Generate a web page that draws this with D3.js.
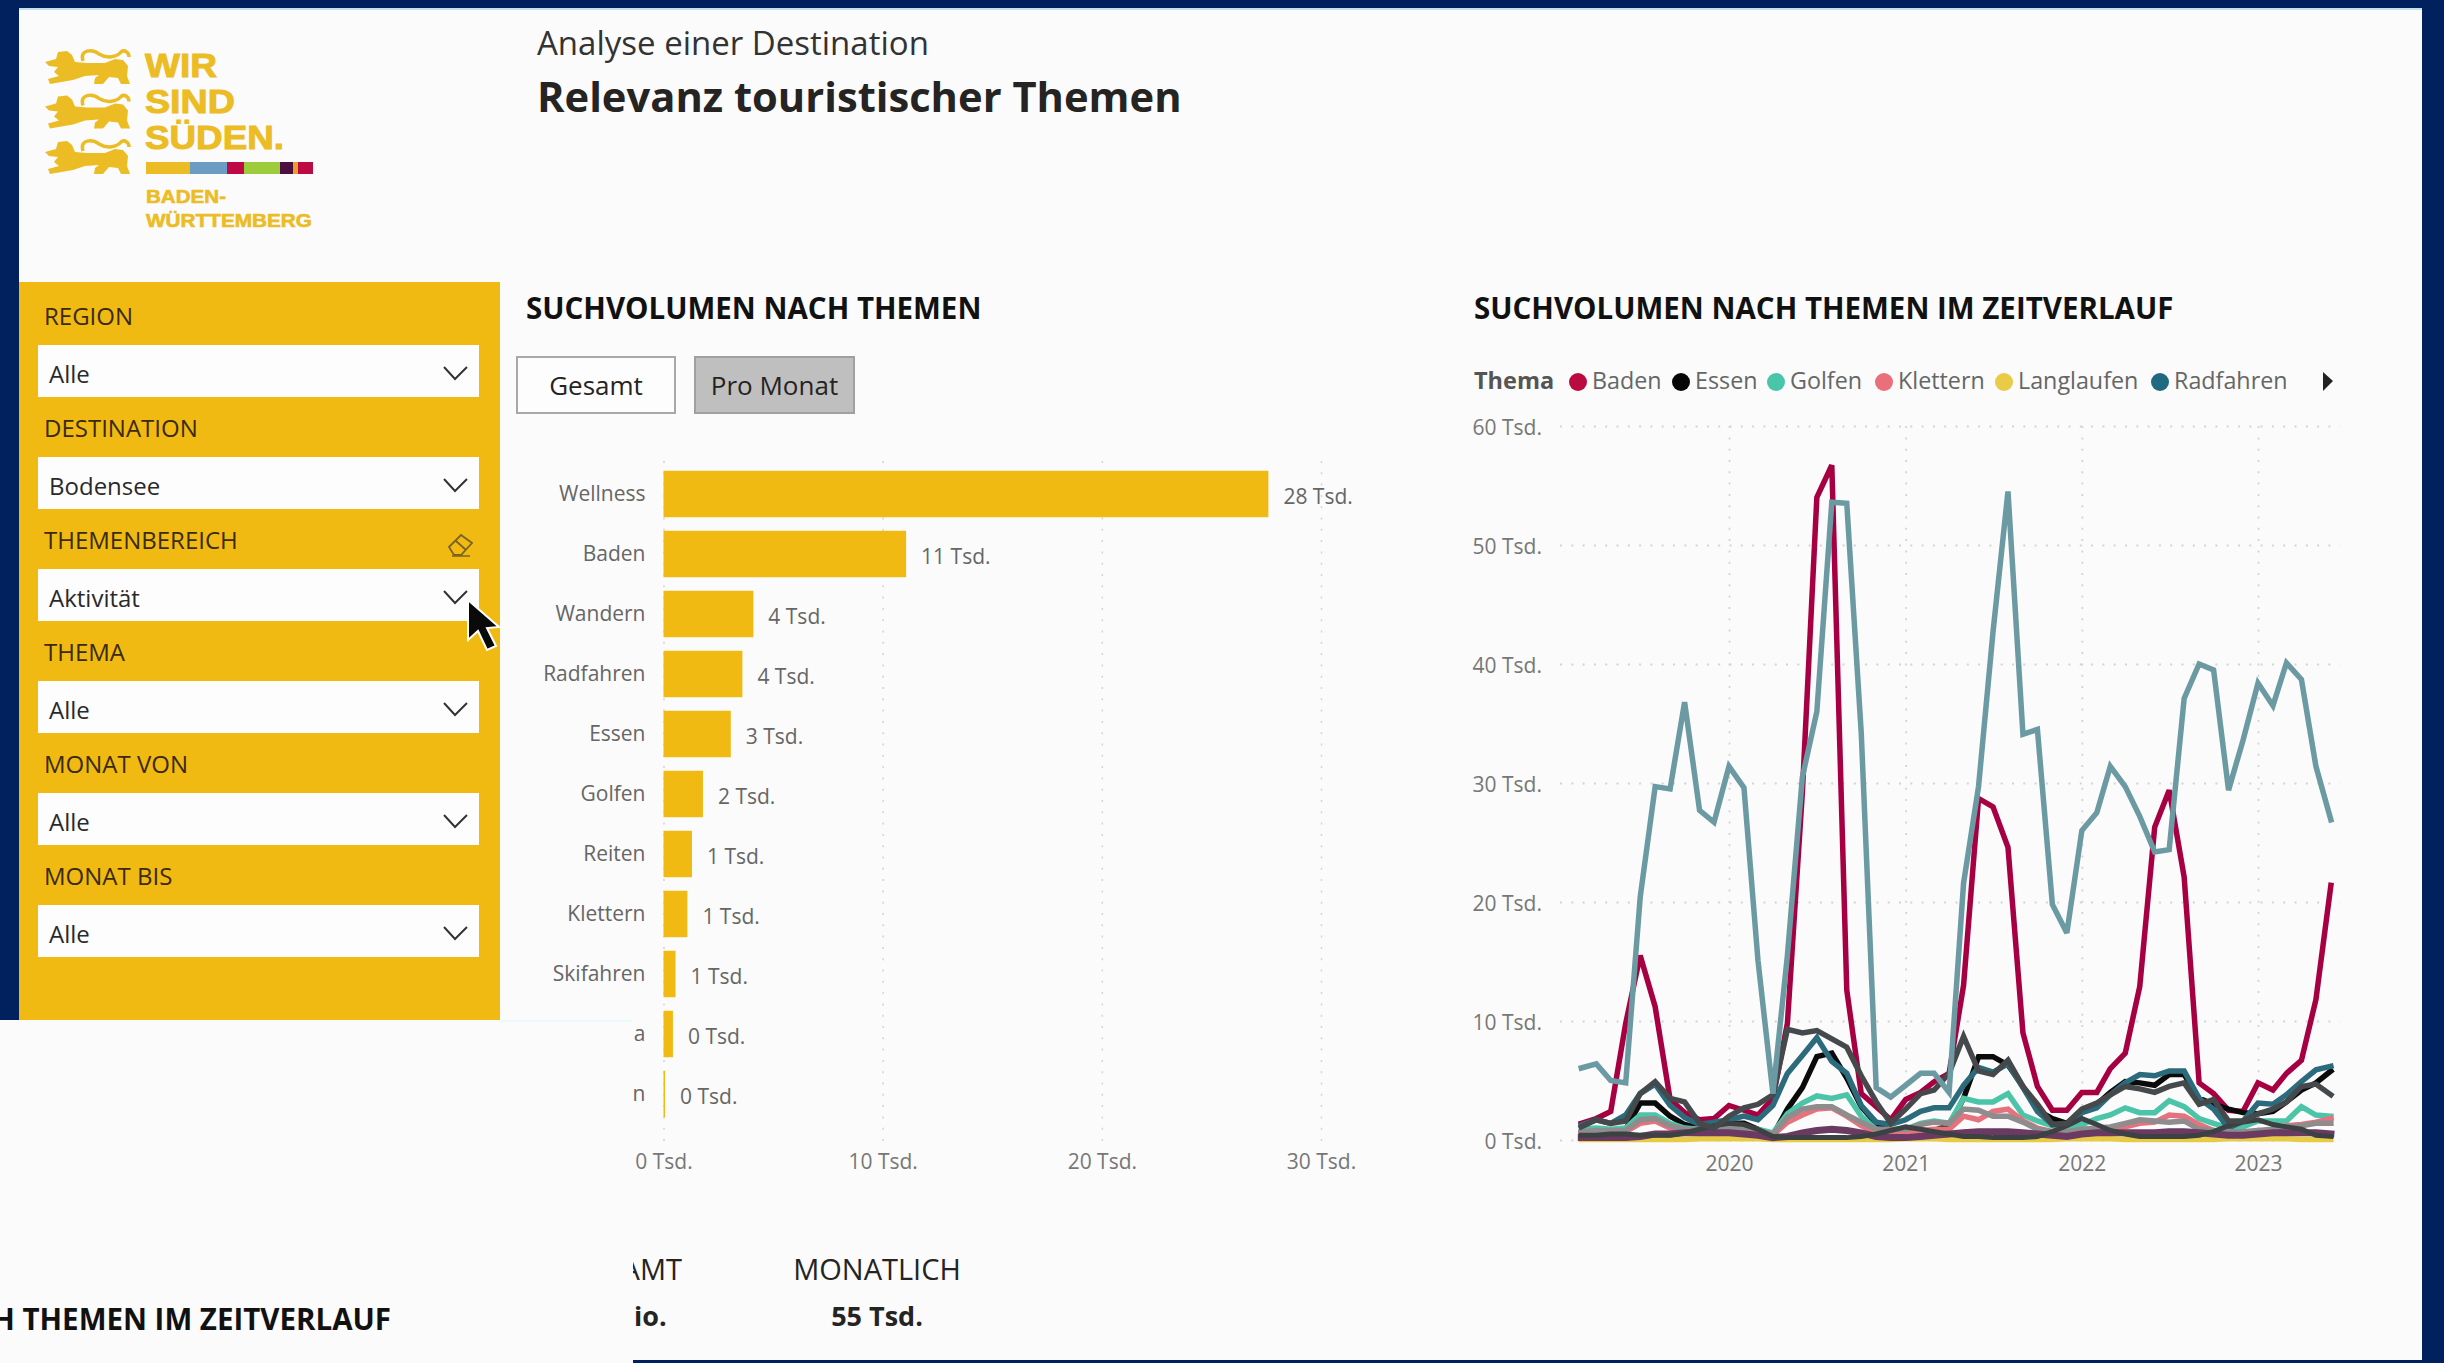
<!DOCTYPE html>
<html lang="de"><head><meta charset="utf-8">
<script src="https://cdnjs.cloudflare.com/ajax/libs/d3/7.8.5/d3.min.js"></script>
<style>
html,body{margin:0;padding:0;background:#fbfbfb;overflow:hidden}
svg{display:block}
text{font-family:"Open Sans","Noto Sans",sans-serif}
</style></head><body>
<svg id="c" width="2444" height="1363"></svg>
<script>
// ---- data ----
const barCategories = ["Wellness","Baden","Wandern","Radfahren","Essen","Golfen","Reiten","Klettern","Skifahren","a","n"];
const barValues = [27.6,11.07,4.1,3.6,3.07,1.8,1.3,1.09,0.55,0.43,0.07];
const barTicks = [0,10,20,30];
const lineTicks = [0,10,20,30,40,50,60];
const yearTicks = ["2020","2021","2022","2023"];
const slicerLabels = ["REGION","DESTINATION","THEMENBEREICH","THEMA","MONAT VON","MONAT BIS"];
const slicerValues = ["Alle","Bodensee","Aktivität","Alle","Alle","Alle"];
const legendNames = ["Baden","Essen","Golfen","Klettern","Langlaufen","Radfahren"];
const legendColors = ["#bb0a40","#060606","#49c6a9","#e9707b","#e9cb45","#1f6a80"];

const baden = [1.4,1.8,2.4,9.8,15.5,11.2,3.4,2.3,1.7,1.8,2.9,2.5,2.1,3.5,9.8,29.2,54,56.7,12.6,3.9,2.8,1.7,3.4,4.0,4.9,5.6,13,28.7,28,24.6,9,4.5,2.5,2.5,4,4,6,7.3,12.9,26.3,29.4,22.1,4.8,3.9,2.5,2.4,4.8,4.2,5.6,6.7,11.8,21.4];
const essen = [0.6,0.7,0.7,0.9,3.1,3.1,2,1.3,1,1.1,1.4,1.4,0.9,0.4,2.6,4.4,7,7.3,5.2,2.8,1.4,0.9,0.6,0.7,0.8,1.2,3.5,7,7,6.3,4.5,2.5,1.8,1.4,2.3,3,4,4.9,4.8,4.6,5.5,5.5,3.5,3,2.6,2.3,2.2,2.4,3.2,4.2,4.8,5.8];
const golfen = [0.9,1,0.9,1,2.1,2.1,1.4,1,0.9,1.1,1,1,0.9,0.6,2.2,3.1,3.7,3.5,3.8,2,0.9,0.8,0.9,1.4,1.6,1.4,3.5,3.2,3.2,3.9,2.1,1.6,1.2,1,1.3,1.8,2.1,2.7,2.3,2.3,3.3,2.8,1.8,1.4,1,1.1,1.6,1.6,1.6,2.8,2.1,2];
const klettern = [0.6,0.7,0.7,0.7,1.4,1.6,1,0.8,0.7,0.8,0.8,0.8,0.7,0.4,1.5,2.1,2.6,2.7,2,1.2,0.6,0.6,0.6,0.8,0.9,0.9,2,1.7,2.4,2.6,1.6,1,0.7,0.6,0.7,0.8,0.9,1.1,1.4,1.5,2.1,2,1.3,0.8,0.6,0.6,0.7,0.9,1.2,1.3,1.5,1.8];
const langlaufen = [0.05,0.05,0.05,0.05,0.05,0.05,0.05,0.05,0.1,0.1,0.1,0.1,0.1,0.05,0.05,0.05,0.05,0.05,0.05,0.05,0.05,0.05,0.1,0.1,0.1,0.05,0.05,0.05,0.05,0.05,0.05,0.05,0.05,0.1,0.1,0.1,0.1,0.05,0.05,0.05,0.05,0.05,0.05,0.05,0.1,0.1,0.1,0.1,0.1,0.05,0.05,0.05];
const radfahren = [1.26,1.7,1.4,2.1,3.9,4.7,2.9,1.9,1.3,1.5,1.7,2,1.7,2.9,5.6,7.1,8.6,6.6,5.6,2.9,1.5,1.3,1.7,2.4,2.7,2.7,4.6,6.1,5.7,6.4,4.4,2.4,1.3,1.3,2.3,2.7,3.8,4.8,5.5,5.4,5.8,5.8,3.5,2.6,1,1.6,3.1,3,3.8,4.9,5.9,6.2];
const reiten = [0.7,0.8,0.8,0.8,1.7,1.8,1.2,0.9,0.9,1,1,0.9,0.8,0.5,1.9,2.6,2.8,2.8,2.1,1.5,0.9,0.9,0.9,1.3,1.5,1.4,2.6,2.5,2,2,1.5,0.9,0.7,0.7,0.9,1,1.1,1.4,1.7,1.6,1.5,1.6,0.9,0.8,0.7,0.7,0.8,0.9,1.1,1.2,1.4,1.4];
const hiddenA = [0.2,0.2,0.2,0.2,0.3,0.5,0.5,0.6,0.6,0.6,0.6,0.5,0.4,0.2,0.3,0.6,0.8,0.9,0.8,0.6,0.3,0.2,0.2,0.3,0.4,0.5,0.6,0.7,0.7,0.7,0.6,0.5,0.4,0.3,0.5,0.6,0.6,0.6,0.6,0.6,0.7,0.7,0.6,0.5,0.4,0.4,0.5,0.6,0.6,0.6,0.6,0.5];
const skifahren = [0.4,0.4,0.5,0.5,0.4,0.4,0.4,0.6,0.9,1.2,1.4,1.3,0.9,0.3,0.2,0.2,0.2,0.2,0.2,0.3,0.5,0.8,1.1,0.9,0.7,0.5,0.3,0.3,0.2,0.2,0.2,0.3,0.7,1.2,1.8,1.3,0.8,0.5,0.3,0.3,0.3,0.3,0.4,0.7,1.2,1.5,1.7,1.3,1.1,0.9,0.4,0.3];
const wandern = [1.1,1.7,1.4,1.6,3.9,4.9,3.5,3.2,1.4,1,2,2.7,3,3.8,9.3,9,9.2,8.5,7.8,5.4,3.2,1.4,2.6,3.9,4.2,5.6,8.7,5.8,5.5,6.7,4.5,3,1.3,1.4,2.6,3.1,3.8,4.5,4.3,4,4.5,4.8,3,3.4,1.6,1.6,2.2,2.6,3.2,4.5,4.7,3.8];
const wellness = [6.05,6.4,5,4.8,20.4,29.7,29.5,36.8,27.7,26.7,31.4,29.6,15.1,3.9,15.5,30.5,36,53.6,53.5,34.2,4.4,3.6,4.6,5.6,5.6,4,21.6,29.7,42.7,54.5,34.1,34.5,19.8,17.4,26,27.5,31.4,29.7,27.2,24.2,24.4,37.1,40,39.5,29.4,33.6,38.4,36.5,40.1,38.7,31.4,26.9];

const lineSeries = [
  {v:baden,c:"#a60042",w:5.5},{v:essen,c:"#0b0b0b",w:5.5},{v:golfen,c:"#4cc4a8",w:5.5},
  {v:klettern,c:"#e5727c",w:5.5},{v:langlaufen,c:"#e8cb45",w:5.5},{v:radfahren,c:"#2b6b7b",w:5.5},
  {v:reiten,c:"#8f8c8e",w:5.5},{v:hiddenA,c:"#6a3a63",w:7},{v:skifahren,c:"#3c4143",w:5},
  {v:wandern,c:"#46494b",w:5.5},{v:wellness,c:"#6b9aa3",w:5.5}
];
const months = d3.utcMonth.range(new Date(Date.UTC(2019,2,1)), new Date(Date.UTC(2023,6,1)));

// ---- page frame ----
const svg = d3.select("#c");
const navy = "#01205e", gold = "#f1ba13";
svg.append("rect").attr("width",2444).attr("height",1363).attr("fill","#fbfbfb");
svg.append("rect").attr("width",2444).attr("height",8).attr("fill",navy);
svg.append("rect").attr("x",19).attr("y",8).attr("width",2403).attr("height",2).attr("fill","#bfe3e8");
svg.append("rect").attr("y",0).attr("width",19).attr("height",1020).attr("fill",navy);
svg.append("rect").attr("x",2422).attr("width",22).attr("height",1363).attr("fill",navy);
svg.append("rect").attr("x",633).attr("y",1360).attr("width",1811).attr("height",3).attr("fill",navy);

// ---- logo ----
const logoGold = "#ecbc24";
const lion = "M0 12 L11 9 L13 2 L22 1 L27 5 L30 12 L42 13 L60 13 L70 9 L78 10 L83 16 L82 26 L85 34 L76 34 L73 28 L64 27 L58 34 L49 34 L50 28 L54 25 L40 26 L28 30 L5 34 L3 29 L14 26 L9 22 L13 17 L4 16 Z";
const lionTail = "M38 11 C34 -1 48 -1 54 4 C62 9 72 7 76 2 C80 -1 84 3 84 7";
[0,44.5,90].forEach(dy=>{
  const g = svg.append("g").attr("transform",`translate(45,${50+dy})`);
  g.append("path").attr("d",lionTail).attr("fill","none").attr("stroke",logoGold).attr("stroke-width",3.5);
  g.append("path").attr("d",lion).attr("fill",logoGold);
});
const logoFont = '"Liberation Sans",sans-serif';
[["WIR",77,34,72],["SIND",113,34,90],["SÜDEN.",149,34,139]].forEach(([t,y,s,l])=>{
  svg.append("text").text(t).attr("x",145).attr("y",y).attr("font-size",s).attr("font-weight",700)
    .attr("fill",logoGold).attr("stroke",logoGold).attr("stroke-width",1).attr("textLength",l).attr("lengthAdjust","spacingAndGlyphs").style("font-family",logoFont);
});
[["BADEN-",203,19,80],["WÜRTTEMBERG",227,19,166]].forEach(([t,y,s,l])=>{
  svg.append("text").text(t).attr("x",146).attr("y",y).attr("font-size",s).attr("font-weight",700)
    .attr("fill",logoGold).attr("stroke",logoGold).attr("stroke-width",0.6).attr("textLength",l).attr("lengthAdjust","spacingAndGlyphs").style("font-family",logoFont);
});
[[146,44,logoGold],[190,37,"#6a9cc4"],[227,17,"#bd0a45"],[244,36,"#9ccb3b"],[280,13,"#4d0f3f"],[293,5,"#e9a02a"],[298,15,"#bd0a45"]].forEach(([x,w,c])=>{
  svg.append("rect").attr("x",x).attr("y",162).attr("width",w).attr("height",12).attr("fill",c);
});

// ---- header ----
svg.append("text").text("Analyse einer Destination").attr("x",537).attr("y",55).attr("font-size",33).attr("fill","#333");
svg.append("text").text("Relevanz touristischer Themen").attr("x",537).attr("y",112).attr("font-size",41.7).attr("font-weight",700).attr("fill","#252423");

// ---- slicer panel ----
svg.append("rect").attr("x",19).attr("y",282).attr("width",481).attr("height",738).attr("fill",gold);
svg.append("rect").attr("x",500).attr("y",1020).attr("width",133).attr("height",2).attr("fill","#eafafa");
const slicerY = d3.scaleLinear().domain([0,5]).range([0,560]);
slicerLabels.forEach((lab,i)=>{
  const o = slicerY(i);
  svg.append("text").text(lab).attr("x",44).attr("y",316+o).attr("dy","0.36em").attr("font-size",24).attr("fill","#3a2a10");
  svg.append("rect").attr("x",38).attr("y",345+o).attr("width",441).attr("height",52).attr("fill","#fdfdfd");
  svg.append("text").text(slicerValues[i]).attr("x",49).attr("y",374+o).attr("dy","0.36em").attr("font-size",24).attr("fill","#2a2a2a");
  svg.append("path").attr("d",`M444 ${367+o} L455 ${379+o} L467 ${367+o}`).attr("fill","none").attr("stroke","#333").attr("stroke-width",2);
});
// eraser icon
svg.append("path").attr("d","M449 547 L461 535 L472 543 L461 555 L454 555 Z M456 541 L466 550").attr("fill","none").attr("stroke","#7a6420").attr("stroke-width",1.8);
svg.append("path").attr("d","M452 556 L470 556").attr("stroke","#7a6420").attr("stroke-width",1.5);
// mouse cursor
svg.append("path").attr("d","M468 600 L468 640 L478 631 L487 650 L496 646 L487 628 L499 627 Z").attr("fill","#0a0a0a").attr("stroke","#fff").attr("stroke-width",2);

// ---- bar chart ----
svg.append("text").text("SUCHVOLUMEN NACH THEMEN").attr("x",526).attr("y",308).attr("dy","0.36em").attr("font-size",29.5).attr("font-weight",700).attr("fill","#111");
[["Gesamt",517,158,"#fdfdfd","#a8a8a8",26],["Pro Monat",695,159,"#bfbfbf","#a0a0a0",26]].forEach(([t,x,w,f,s,fs])=>{
  svg.append("rect").attr("x",x).attr("y",357).attr("width",w).attr("height",56).attr("fill",f).attr("stroke",s).attr("stroke-width",2);
  svg.append("text").text(t).attr("x",x+w/2).attr("y",386).attr("dy","0.36em").attr("text-anchor","middle").attr("font-size",fs).attr("fill","#252423");
});
const bx = d3.scaleLinear().domain([0,30]).range([663.5,1321]);
const by = d3.scaleBand().domain(barCategories).range([464,1124]).paddingInner(0.225).paddingOuter(0.1125);
const barGrid = svg.append("g").attr("transform","translate(0,1141)")
  .call(d3.axisBottom(bx).tickValues(barTicks).tickSize(-689).tickFormat(""));
barGrid.select(".domain").remove();
barGrid.selectAll("line").attr("stroke","#d4d4d4").attr("stroke-width",1.5).attr("stroke-dasharray","2 9.3");
const barAxis = svg.append("g").attr("transform","translate(0,1141)")
  .call(d3.axisBottom(bx).tickValues(barTicks).tickSize(0).tickPadding(13).tickFormat(d=>`${d} Tsd.`));
barAxis.select(".domain").remove();
barAxis.selectAll("text").attr("font-size",21).attr("fill","#777").style("font-family",'"Open Sans"');
const catAxis = svg.append("g").attr("transform",`translate(${bx(0)},0)`)
  .call(d3.axisLeft(by).tickSize(0).tickPadding(18));
catAxis.select(".domain").remove();
catAxis.selectAll("text").attr("font-size",21).attr("fill","#666").style("font-family",'"Open Sans"');
svg.append("g").selectAll("rect").data(barValues).join("rect")
  .attr("x",bx(0)).attr("y",(d,i)=>by(barCategories[i])).attr("height",by.bandwidth())
  .attr("width",d=>bx(d)-bx(0)).attr("fill",gold);
svg.append("g").selectAll("text").data(barValues).join("text")
  .text(d=>`${Math.round(d)} Tsd.`)
  .attr("x",d=>bx(d)+15).attr("y",(d,i)=>by(barCategories[i])+by.bandwidth()/2+2).attr("dy","0.36em")
  .attr("font-size",21).attr("fill","#666");

// ---- KPI strip & occluded titles ----
const defs = svg.append("defs");
defs.append("clipPath").attr("id","kpiClip").append("rect").attr("x",633).attr("y",1200).attr("width",400).attr("height",160);
svg.append("text").text("AMT").attr("x",682).attr("y",1270).attr("dy","0.36em").attr("text-anchor","end").attr("font-size",29).attr("fill","#252423").attr("clip-path","url(#kpiClip)");
svg.append("text").text("io.").attr("x",634).attr("y",1316).attr("dy","0.36em").attr("font-size",27).attr("font-weight",700).attr("fill","#252423").attr("clip-path","url(#kpiClip)");
svg.append("text").text("MONATLICH").attr("x",877).attr("y",1270).attr("dy","0.36em").attr("text-anchor","middle").attr("font-size",29).attr("fill","#252423");
svg.append("text").text("55 Tsd.").attr("x",877).attr("y",1316).attr("dy","0.36em").attr("text-anchor","middle").attr("font-size",27).attr("font-weight",700).attr("fill","#252423");
svg.append("text").text("H THEMEN IM ZEITVERLAUF").attr("x",391).attr("y",1319).attr("dy","0.36em").attr("text-anchor","end").attr("font-size",29.5).attr("font-weight",700).attr("fill","#111");

// ---- line chart ----
svg.append("text").text("SUCHVOLUMEN NACH THEMEN IM ZEITVERLAUF").attr("x",1474).attr("y",308).attr("dy","0.36em").attr("font-size",29.5).attr("font-weight",700).attr("fill","#111");
svg.append("text").text("Thema").attr("x",1474).attr("y",381).attr("dy","0.36em").attr("font-size",23.5).attr("font-weight",700).attr("fill","#555");
const legendCx = [1578,1681,1776,1884,2004,2160];
legendNames.forEach((n,i)=>{
  svg.append("circle").attr("cx",legendCx[i]).attr("cy",382).attr("r",9).attr("fill",legendColors[i]);
  svg.append("text").text(n).attr("x",legendCx[i]+14).attr("y",381).attr("dy","0.36em").attr("font-size",23.3).attr("fill","#666");
});
svg.append("path").attr("d","M2323 372 L2333 381 L2323 391 Z").attr("fill","#222");

const lx = d3.scaleUtc().domain([new Date(Date.UTC(2020,0,1)),new Date(Date.UTC(2023,0,1))]).range([1729,2258]);
const ly = d3.scaleLinear().domain([0,60]).range([1140,426]);
const yearDates = yearTicks.map(y=>new Date(Date.UTC(+y,0,1)));
const hGrid = svg.append("g").attr("transform","translate(1560,0)")
  .call(d3.axisLeft(ly).tickValues(lineTicks).tickSize(-780).tickFormat(""));
hGrid.select(".domain").remove();
hGrid.selectAll("line").attr("stroke","#d4d4d4").attr("stroke-width",1.8).attr("stroke-dasharray","2 9.3");
const vGrid = svg.append("g").attr("transform","translate(0,1140)")
  .call(d3.axisBottom(lx).tickValues(yearDates).tickSize(-714).tickFormat(""));
vGrid.select(".domain").remove();
vGrid.selectAll("line").attr("stroke","#d4d4d4").attr("stroke-width",1.8).attr("stroke-dasharray","2 9.3");
const yAxis = svg.append("g").attr("transform","translate(1542,2)")
  .call(d3.axisLeft(ly).tickValues(lineTicks).tickSize(0).tickPadding(0).tickFormat(d=>`${d} Tsd.`));
yAxis.select(".domain").remove();
yAxis.selectAll("text").attr("font-size",21).attr("fill","#777").style("font-family",'"Open Sans"');
const xAxis = svg.append("g").attr("transform","translate(0,1140)")
  .call(d3.axisBottom(lx).tickValues(yearDates).tickSize(0).tickPadding(16).tickFormat((d,i)=>yearTicks[i]));
xAxis.select(".domain").remove();
xAxis.selectAll("text").attr("font-size",21).attr("fill","#777").style("font-family",'"Open Sans"');
const line = d3.line().x((d,i)=>lx(months[i])).y(d=>ly(d));
svg.append("g").selectAll("path").data(lineSeries).join("path")
  .attr("d",d=>line(d.v)).attr("fill","none").attr("stroke",d=>d.c).attr("stroke-width",d=>d.w)
  .attr("stroke-linecap","square").attr("stroke-linejoin","miter").attr("stroke-miterlimit",3);
</script>
</body></html>
